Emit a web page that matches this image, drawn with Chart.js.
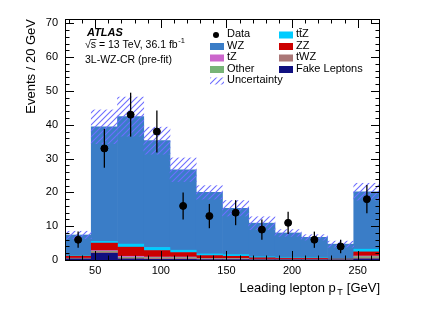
<!DOCTYPE html>
<html>
<head>
<meta charset="utf-8">
<script src="https://cdn.jsdelivr.net/npm/chart.js@4"></script>
<style>
  html, body { margin: 0; padding: 0; background: #fff; }
  #wrap { width: 432px; height: 310px; }
</style>
</head>
<body>
<div id="wrap"><canvas id="ptChart" width="432" height="310"></canvas></div>
<script>
// bin centres, leading lepton pT [GeV], 20 GeV bins from 27 to 267
const binCenters = [37, 57, 77, 97, 117, 137, 157, 177, 197, 217, 237, 257];

// stacked MC (bottom -> top)
const fakeLeptons = [0.3, 2.0, 0.3, 0.2, 0.2, 0.1, 0.1, 0.05, 0.05, 0.05, 0.03, 0.3];
const tWZ   = [0.1, 0.4, 0.3, 0.3, 0.3, 0.2, 0.2, 0.1, 0.1, 0.1, 0.05, 0.3];
const other = [0.1, 0.2, 0.2, 0.2, 0.2, 0.1, 0.1, 0.05, 0.05, 0.05, 0.03, 0.4];
const tZ    = [0.05, 0.2, 0.3, 0.2, 0.2, 0.1, 0.1, 0.05, 0.05, 0.05, 0.03, 0.2];
const ZZ    = [0.6, 2.2, 2.7, 1.9, 1.3, 0.8, 0.6, 0.4, 0.3, 0.3, 0.2, 1.2];
const ttZ   = [0.2, 0.5, 0.9, 0.9, 0.7, 0.5, 0.5, 0.3, 0.25, 0.25, 0.15, 0.8];
const WZ    = [6.05, 33.9, 37.7, 31.6, 23.8, 18.2, 13.7, 9.95, 7.2, 5.9, 4.2, 17.0];

// total MC uncertainty (+-)
const mcUnc = [1.1, 5.0, 5.8, 4.0, 3.5, 2.0, 2.3, 1.9, 1.0, 0.8, 0.9, 2.5];

// data with error bars
const dataVals = [6, 33, 43, 38, 16, 13, 14, 9, 11, 6, 4, 18];
const dataLo   = [3.6, 27.3, 36.5, 31.8, 12.0, 9.4, 10.3, 6.0, 7.7, 3.6, 2.0, 13.8];
const dataHi   = [8.4, 38.8, 49.5, 44.2, 20.0, 16.6, 17.7, 12.0, 14.3, 8.4, 6.0, 22.2];

// axes
const xTicks = [50, 100, 150, 200, 250];
const yTicks = [0, 10, 20, 30, 40, 50, 60, 70];
const xMin = 27, xMax = 267, yMin = 0, yMax = 71.3;

const FONT = '"Liberation Sans", Arial, Helvetica, sans-serif';

const colors = {
  WZ: 'rgb(58,125,199)',
  ttZ: 'rgb(0,204,255)',
  tZ: 'rgb(204,102,204)',
  ZZ: 'rgb(204,0,0)',
  other: 'rgb(119,180,119)',
  tWZ: 'rgb(170,119,119)',
  fake: 'rgb(16,16,128)'
};

// hatch pattern for uncertainty
function makeHatch() {
  const c = document.createElement('canvas');
  c.width = 6; c.height = 6;
  const g = c.getContext('2d');
  g.strokeStyle = 'rgb(110,110,255)';
  g.lineWidth = 1.1;
  g.beginPath();
  g.moveTo(0, 6); g.lineTo(6, 0);
  g.moveTo(-3, 3); g.lineTo(3, -3);
  g.moveTo(3, 9); g.lineTo(9, 3);
  g.stroke();
  return g.createPattern(c, 'repeat');
}
const hatch = makeHatch();

function pts(arr) {
  return binCenters.map((x, i) => ({x: x, y: arr[i]}));
}

const total = binCenters.map((_, i) =>
  fakeLeptons[i] + tWZ[i] + other[i] + tZ[i] + ZZ[i] + ttZ[i] + WZ[i]);
const uncBand = binCenters.map((x, i) => ({x: x, y: [total[i] - mcUnc[i], total[i] + mcUnc[i]]}));

function stackSet(label, arr, color) {
  return {
    type: 'bar', label: label, data: pts(arr),
    backgroundColor: color, borderWidth: 0,
    barPercentage: 1.0, categoryPercentage: 1.0, grouped: false,
    stack: 'mc'
  };
}

// frame, ticks, error bars, text, legend
const decorations = {
  id: 'decorations',
  afterDatasetsDraw(chart) {
    const ctx = chart.ctx;
    const x = chart.scales.x, y = chart.scales.y;
    ctx.save();
    ctx.strokeStyle = '#000';
    ctx.lineWidth = 1.3;
    binCenters.forEach((c, i) => {
      const px = x.getPixelForValue(c);
      ctx.beginPath();
      ctx.moveTo(px, y.getPixelForValue(dataLo[i]));
      ctx.lineTo(px, y.getPixelForValue(dataHi[i]));
      ctx.stroke();
    });
    ctx.restore();
  },
  afterDraw(chart) {
    const ctx = chart.ctx;
    const a = chart.chartArea;
    const x = chart.scales.x, y = chart.scales.y;
    ctx.save();
    ctx.strokeStyle = '#000';
    ctx.lineWidth = 1;
    ctx.strokeRect(Math.round(a.left) + 0.5, Math.round(a.top) + 0.5,
      Math.round(a.right - a.left) - 1, Math.round(a.bottom - a.top));
    ctx.beginPath();
    for (let v = 30; v <= 260; v += 10) {
      const px = Math.round(x.getPixelForValue(v)) + 0.5;
      const len = (v % 50 === 0) ? 9 : 4.5;
      ctx.moveTo(px, a.bottom); ctx.lineTo(px, a.bottom - len);
      ctx.moveTo(px, a.top); ctx.lineTo(px, a.top + len);
    }
    for (let v = 0; v <= 70; v += 2) {
      const py = Math.round(y.getPixelForValue(v)) + 0.5;
      const len = (v % 10 === 0) ? 9 : 4.5;
      ctx.moveTo(a.left, py); ctx.lineTo(a.left + len, py);
      ctx.moveTo(a.right, py); ctx.lineTo(a.right - len, py);
    }
    ctx.stroke();

    // axis titles
    ctx.fillStyle = '#000';
    ctx.font = '13px ' + FONT;
    ctx.textBaseline = 'alphabetic';
    ctx.textAlign = 'right';
    ctx.fillText('[GeV]', a.right, 292);
    const wG = ctx.measureText('[GeV]').width;
    ctx.font = '9px ' + FONT;
    ctx.fillText('T', a.right - wG - 4, 295);
    ctx.font = '13px ' + FONT;
    ctx.fillText('Leading lepton p', a.right - wG - 11, 292);

    ctx.save();
    ctx.translate(35, a.top);
    ctx.rotate(-Math.PI / 2);
    ctx.textAlign = 'right';
    ctx.fillText('Events / 20 GeV', 0, 0);
    ctx.restore();

    // ATLAS label
    ctx.textAlign = 'left';
    ctx.textBaseline = 'middle';
    ctx.font = 'italic bold 11px ' + FONT;
    ctx.fillText('ATLAS', 87, 33);
    ctx.font = '10.5px ' + FONT;
    ctx.fillText('\u221As = 13 TeV, 36.1 fb', 85, 45);
    const w1 = ctx.measureText('\u221As = 13 TeV, 36.1 fb').width;
    const wr = ctx.measureText('\u221A').width;
    const ws = ctx.measureText('s').width;
    ctx.beginPath();
    ctx.lineWidth = 0.8;
    ctx.moveTo(85 + wr - 0.5, 39.5); ctx.lineTo(85 + wr + ws + 0.5, 39.5);
    ctx.stroke();
    ctx.font = '7.5px ' + FONT;
    ctx.fillText('-1', 85 + w1 + 0.5, 41);
    ctx.font = '10.5px ' + FONT;
    ctx.fillText('3L-WZ-CR (pre-fit)', 85, 60);

    // legend
    ctx.font = '11px ' + FONT;
    const rows = [35, 46.5, 58, 69.5, 81];
    const col1 = [
      ['Data', 'data'], ['WZ', colors.WZ], ['tZ', colors.tZ],
      ['Other', colors.other], ['Uncertainty', 'hatch']
    ];
    const col2 = [
      ['t\u0074\u0304Z', colors.ttZ], ['ZZ', colors.ZZ],
      ['tWZ', colors.tWZ], ['Fake Leptons', colors.fake]
    ];
    function entry(bx, tx, ry, item) {
      const [label, kind] = item;
      if (kind === 'data') {
        ctx.beginPath();
        ctx.arc(bx + 6, ry, 3, 0, Math.PI * 2);
        ctx.fillStyle = '#000';
        ctx.fill();
      } else if (kind === 'hatch') {
        ctx.fillStyle = hatch;
        ctx.fillRect(bx, ry - 3.5, 14, 7);
      } else {
        ctx.fillStyle = kind;
        ctx.fillRect(bx, ry - 3.5, 14, 7);
      }
      ctx.fillStyle = '#000';
      ctx.fillText(label, tx, ry - 1);
    }
    col1.forEach((it, i) => entry(210, 227, rows[i], it));
    col2.forEach((it, i) => entry(279, 296, rows[i], it));
    ctx.restore();
  }
};

const config = {
  type: 'bar',
  data: {
    datasets: [
      {
        type: 'scatter', label: 'Data', data: pts(dataVals),
        backgroundColor: '#000', borderColor: '#000',
        pointRadius: 3.5, pointHoverRadius: 3.5,
        xAxisID: 'x2', yAxisID: 'y2'
      },
      {
        type: 'bar', label: 'Uncertainty', data: uncBand,
        backgroundColor: hatch, borderWidth: 0,
        barPercentage: 1.0, categoryPercentage: 1.0, grouped: false,
        stack: 'unc'
      },
      stackSet('Fake Leptons', fakeLeptons, colors.fake),
      stackSet('tWZ', tWZ, colors.tWZ),
      stackSet('Other', other, colors.other),
      stackSet('tZ', tZ, colors.tZ),
      stackSet('ZZ', ZZ, colors.ZZ),
      stackSet('ttZ', ttZ, colors.ttZ),
      stackSet('WZ', WZ, colors.WZ)
    ]
  },
  options: {
    responsive: false,
    animation: false,
    events: [],
    layout: { padding: { left: 0, right: 52, top: 19, bottom: 0 } },
    plugins: { legend: { display: false }, tooltip: { enabled: false } },
    scales: {
      x: {
        type: 'linear', min: xMin, max: xMax, offset: false, stacked: true,
        grid: { display: false, drawTicks: false }, border: { display: false },
        afterBuildTicks: s => { s.ticks = xTicks.map(v => ({value: v})); },
        afterFit: s => { s.height = 50; },
        ticks: { padding: 4, color: '#000', font: { family: FONT, size: 11 }, maxRotation: 0 }
      },
      y: {
        type: 'linear', min: yMin, max: yMax, stacked: true,
        grid: { display: false, drawTicks: false }, border: { display: false },
        afterBuildTicks: s => { s.ticks = yTicks.map(v => ({value: v})); },
        afterFit: s => { s.width = 65; },
        ticks: { padding: 7, color: '#000', font: { family: FONT, size: 11 } }
      },
      x2: { type: 'linear', min: xMin, max: xMax, offset: false, display: false },
      y2: { type: 'linear', min: yMin, max: yMax, display: false }
    }
  },
  plugins: [decorations]
};

const myChart = new Chart(document.getElementById('ptChart'), config);
</script>
</body>
</html>
